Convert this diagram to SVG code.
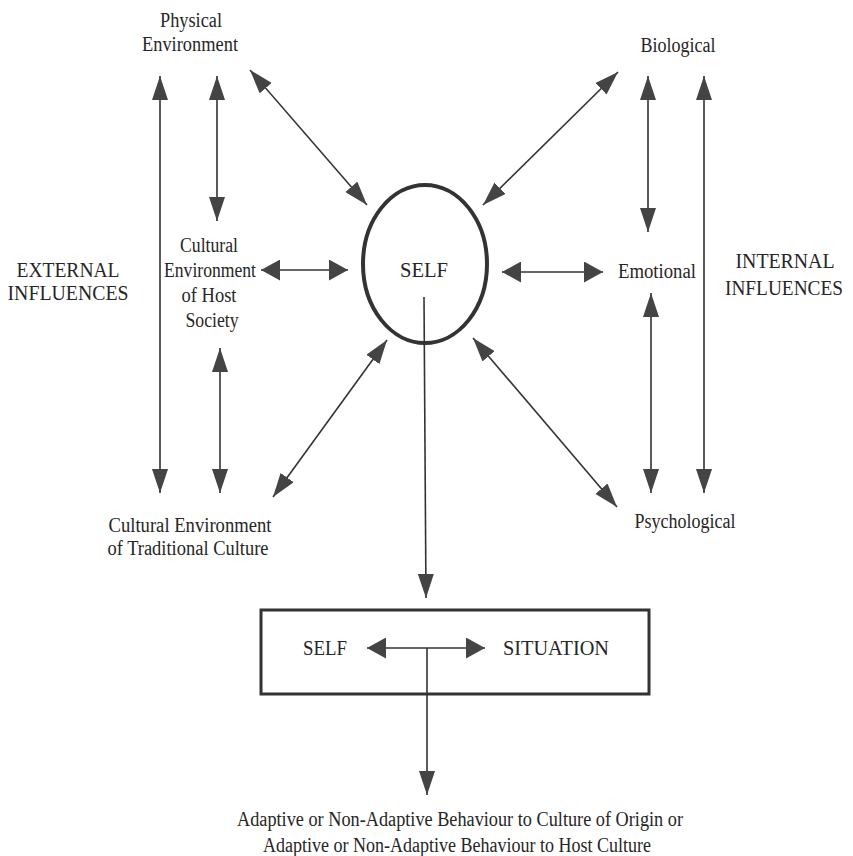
<svg xmlns="http://www.w3.org/2000/svg" width="853" height="856" viewBox="0 0 853 856">
<style>
text{font-family:"Liberation Serif","Times New Roman",serif;fill:#262626;text-anchor:middle}
.lb{font-size:20px}
.big{font-size:21px}
.mid{font-size:21px}
.c{stroke:#333;stroke-width:1.6;fill:none}
.d{marker-start:url(#ah);marker-end:url(#ah)}
.dw{marker-start:url(#aw);marker-end:url(#aw)}
.e{marker-end:url(#ah)}
</style>
<defs>
<marker id="ah" markerUnits="userSpaceOnUse" markerWidth="24" markerHeight="16" viewBox="0 0 24 16" refX="24" refY="8" orient="auto-start-reverse">
<path d="M0,0 L24,8 L0,16 z" fill="#444"/>
</marker>
<marker id="aw" markerUnits="userSpaceOnUse" markerWidth="19" markerHeight="21" viewBox="0 0 19 21" refX="19" refY="10.5" orient="auto-start-reverse">
<path d="M0,0 L19,10.5 L0,21 z" fill="#444"/>
</marker>
</defs>
<rect width="853" height="856" fill="#fff"/>

<g id="connectors">
<line class="c d" x1="160" y1="76" x2="160" y2="493"/>
<line class="c d" x1="217" y1="76" x2="217" y2="221"/>
<line class="c d" x1="220" y1="348" x2="220" y2="493"/>
<line class="c d" x1="250" y1="70" x2="367" y2="205"/>
<line class="c dw" x1="261" y1="270" x2="348" y2="270"/>
<line class="c d" x1="273" y1="497" x2="387" y2="340"/>
<line class="c d" x1="618" y1="72" x2="483" y2="205"/>
<line class="c d" x1="648" y1="76" x2="648" y2="232"/>
<line class="c d" x1="704" y1="76" x2="704" y2="493"/>
<line class="c dw" x1="502" y1="272" x2="603" y2="272"/>
<line class="c d" x1="651" y1="293" x2="651" y2="493"/>
<line class="c d" x1="473" y1="338" x2="617" y2="507"/>
<line class="c e" x1="424" y1="297" x2="426" y2="598"/>
<line class="c dw" x1="367" y1="648" x2="485" y2="648"/>
<line class="c e" x1="427" y1="648" x2="427" y2="795"/>
</g>

<g id="physical">
<text class="lb" x="191" y="27" textLength="62" lengthAdjust="spacingAndGlyphs">Physical</text>
<text class="lb" x="190" y="51" textLength="96" lengthAdjust="spacingAndGlyphs">Environment</text>
</g>
<g id="biological">
<text class="lb" x="678" y="52" textLength="75" lengthAdjust="spacingAndGlyphs">Biological</text>
</g>
<g id="host">
<text class="lb" x="209" y="252" textLength="58" lengthAdjust="spacingAndGlyphs">Cultural</text>
<text class="lb" x="210" y="277" textLength="92" lengthAdjust="spacingAndGlyphs">Environment</text>
<text class="lb" x="209" y="302" textLength="55" lengthAdjust="spacingAndGlyphs">of Host</text>
<text class="lb" x="212" y="327" textLength="53" lengthAdjust="spacingAndGlyphs">Society</text>
</g>
<g id="external">
<text class="big" x="68" y="277" textLength="103" lengthAdjust="spacingAndGlyphs">EXTERNAL</text>
<text class="big" x="68" y="300" textLength="121" lengthAdjust="spacingAndGlyphs">INFLUENCES</text>
</g>
<g id="internal">
<text class="big" x="785" y="268" textLength="99" lengthAdjust="spacingAndGlyphs">INTERNAL</text>
<text class="big" x="784" y="295" textLength="118" lengthAdjust="spacingAndGlyphs">INFLUENCES</text>
</g>
<g id="emotional">
<text class="lb" x="657" y="278" textLength="78" lengthAdjust="spacingAndGlyphs">Emotional</text>
</g>
<g id="self">
<ellipse cx="425" cy="264" rx="62" ry="79" fill="none" stroke="#333" stroke-width="4"/>
<text class="mid" x="424" y="277" textLength="48" lengthAdjust="spacingAndGlyphs">SELF</text>
</g>
<g id="traditional">
<text class="lb" x="190" y="532" textLength="163" lengthAdjust="spacingAndGlyphs">Cultural Environment</text>
<text class="lb" x="188" y="555" textLength="161" lengthAdjust="spacingAndGlyphs">of Traditional Culture</text>
</g>
<g id="psychological">
<text class="lb" x="685" y="528" textLength="101" lengthAdjust="spacingAndGlyphs">Psychological</text>
</g>
<g id="self-situation">
<rect x="261" y="610" width="388" height="84" fill="none" stroke="#333" stroke-width="3"/>
<text class="mid" x="325" y="655" textLength="44" lengthAdjust="spacingAndGlyphs">SELF</text>
<text class="mid" x="556" y="655" textLength="106" lengthAdjust="spacingAndGlyphs">SITUATION</text>
</g>
<g id="behaviour">
<text class="lb" x="460" y="826" textLength="446" lengthAdjust="spacingAndGlyphs">Adaptive or Non-Adaptive Behaviour to Culture of Origin or</text>
<text class="lb" x="457" y="852" textLength="388" lengthAdjust="spacingAndGlyphs">Adaptive or Non-Adaptive Behaviour to Host Culture</text>
</g>
</svg>
